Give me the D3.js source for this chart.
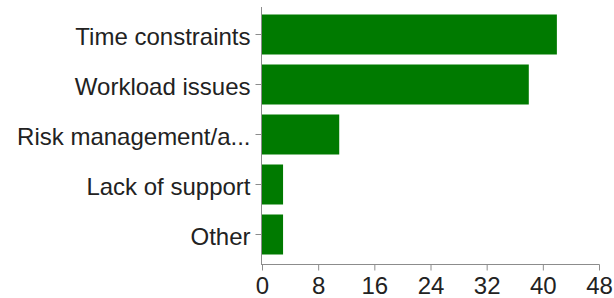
<!DOCTYPE html>
<html>
<head>
<meta charset="utf-8">
<script src="https://cdn.jsdelivr.net/npm/d3@7"></script>
<style>
  html, body { margin: 0; padding: 0; background: #fff; }
  svg { display: block; }
  text { font-family: "Liberation Sans", Arial, sans-serif; fill: #222; }
</style>
</head>
<body>
<svg id="chart" width="614" height="298"></svg>
<script>
const categories = ["Time constraints", "Workload issues", "Risk management/a...", "Lack of support", "Other"];
const values = [42, 38, 11, 3, 3];
const xTicks = [0, 8, 16, 24, 32, 40, 48];

const svg = d3.select("#chart");
const fontSize = 24;
const axisColor = "#8c8c8c";

const x = d3.scaleLinear().domain([0, 48]).range([262, 599]);
const y = d3.scaleBand().domain(categories).range([9.5, 259.5]).paddingInner(0.2).paddingOuter(0.1);

// bars
svg.append("g").selectAll("rect")
  .data(categories)
  .join("rect")
  .attr("x", x(0))
  .attr("y", d => y(d))
  .attr("width", (d, i) => x(values[i]) - x(0))
  .attr("height", y.bandwidth())
  .attr("fill", "#007a00");

// y axis
const yAxis = svg.append("g")
  .attr("transform", "translate(261.5,0)")
  .call(d3.axisLeft(y).tickSize(6).tickPadding(5));
yAxis.select(".domain").remove();
yAxis.append("line").attr("x1", 0).attr("x2", 0).attr("y1", 7).attr("y2", 265).attr("stroke", axisColor);
yAxis.selectAll(".tick line").attr("stroke", axisColor);
yAxis.selectAll(".tick text")
  .attr("font-size", fontSize)
  .attr("dy", "0.43em")
  .style("fill", "#222");

// x axis
const xAxis = svg.append("g")
  .attr("transform", "translate(0,264.5)")
  .call(d3.axisBottom(x).tickValues(xTicks).tickFormat(d3.format("d")).tickSize(6).tickPadding(6));
xAxis.select(".domain").remove();
xAxis.append("line").attr("x1", 261).attr("x2", 599.5).attr("y1", 0).attr("y2", 0).attr("stroke", axisColor);
xAxis.selectAll(".tick line").attr("stroke", axisColor);
xAxis.selectAll(".tick text")
  .attr("font-size", fontSize)
  .style("fill", "#222");
svg.selectAll("g").attr("font-family", null);
</script>
</body>
</html>
